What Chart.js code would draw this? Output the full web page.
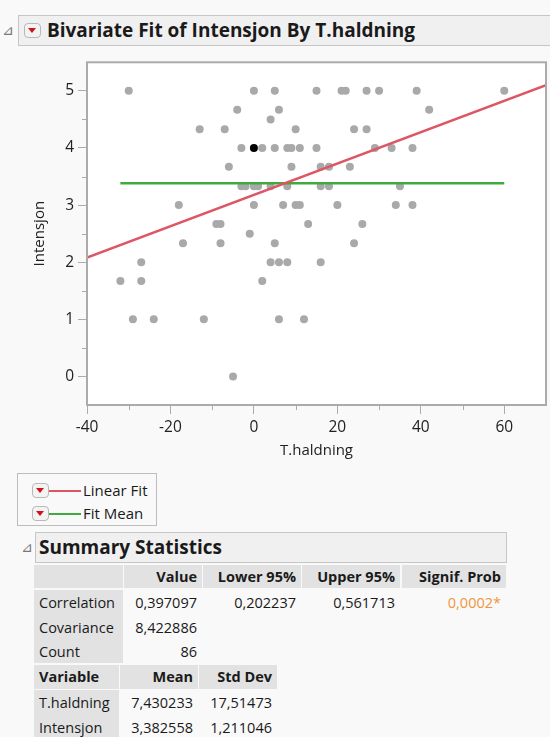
<!DOCTYPE html>
<html>
<head>
<meta charset="utf-8">
<script src="https://cdn.jsdelivr.net/npm/chart.js@4"></script>
<style>
  html, body { margin: 0; padding: 0; background: #f9f9f9; }
  body { width: 550px; height: 737px; position: relative; overflow: hidden;
         font-family: "Open Sans", "Noto Sans", sans-serif; color: #1a1a1a; }
  .abs { position: absolute; }
  .tri { position: absolute; font-family: "DejaVu Sans", sans-serif; font-size: 14px; color: #777; }
  .bar { position: absolute; background: #f0f0f0; border: 1px solid #c6c6c6; box-sizing: border-box; }
  .bar span { position: absolute; font-weight: 700; font-size: 19px; white-space: nowrap; }
  .btn { position: absolute; width: 17px; height: 15px; background: #f3f3f3; border: 1px solid #b8b8b8;
         border-radius: 4px; box-sizing: border-box; }
  .btn::after { content: ""; position: absolute; left: 3px; top: 4px; border-left: 4.5px solid transparent;
         border-right: 4.5px solid transparent; border-top: 5px solid #d0121b; }
  .cell { position: absolute; box-sizing: border-box; font-size: 14.5px; line-height: 24px;
          white-space: nowrap; padding: 0 5px; }
  .hd { background: #e2e2e2; font-weight: 700; text-align: right; }
  .lb { text-align: left; }
  .num { text-align: right; }
  #wrap { position: absolute; left: 0; top: 49px; width: 550px; height: 415px; }
</style>
</head>
<body>
<div class="tri" style="left:2px;top:22px;">⊿</div>
<div class="bar" style="left:18px;top:15px;width:540px;height:31px;">
  <div class="btn" style="left:5px;top:7px;"></div>
  <span style="left:28px;top:1px;">Bivariate Fit of Intensjon By T.haldning</span>
</div>

<div id="wrap"><canvas id="fit"></canvas></div>

<div class="abs" style="left:17px;top:473px;width:140px;height:53px;border:1px solid #bdbdbd;box-sizing:border-box;" id="legend"></div>

<div class="tri" style="left:21px;top:539px;">⊿</div>
<div class="bar" style="left:35px;top:532px;width:472px;height:31px;">
  <span style="left:3px;top:1px;">Summary Statistics</span>
</div>
<div id="stats"></div>

<script>
// T.haldning (x) and Intensjon (y)
const xVals = [-30, 0, 5, 15, 21, 22, 27, 30, 39, 60,
  -4, 6, 42,
  4,
  -13, -7, 10, 24, 27,
  -3, 2, 5, 8, 9, 11, 15, 29, 33, 38,
  -6, 9, 16, 18, 23,
  -3, -2, 0, 1, 4, 8, 16, 18, 35,
  -18, 0, 7, 10, 11, 20, 34, 38,
  -9, -8, 13, 26,
  -1,
  -17, -8, 5, 24,
  -27, 4, 6, 8, 16,
  -32, -27, 2,
  -29, -24, -12, 6, 12,
  -5];
const yVals = [5, 5, 5, 5, 5, 5, 5, 5, 5, 5,
  4.67, 4.67, 4.67,
  4.5,
  4.33, 4.33, 4.33, 4.33, 4.33,
  4, 4, 4, 4, 4, 4, 4, 4, 4, 4,
  3.67, 3.67, 3.67, 3.67, 3.67,
  3.33, 3.33, 3.33, 3.33, 3.33, 3.33, 3.33, 3.33, 3.33,
  3, 3, 3, 3, 3, 3, 3, 3,
  2.67, 2.67, 2.67, 2.67,
  2.5,
  2.33, 2.33, 2.33, 2.33,
  2, 2, 2, 2, 2,
  1.67, 1.67, 1.67,
  1, 1, 1, 1, 1,
  0];
// highlighted (selected) row
const selX = [0];
const selY = [4];

const xTicks = [-40, -20, 0, 20, 40, 60];
const xMinor = [-30, -10, 10, 30, 50];
const yTicks = [0, 1, 2, 3, 4, 5];
const yMinor = [0.5, 1.5, 2.5, 3.5, 4.5];

// summary statistics
const corrHead = ["", "Value", "Lower 95%", "Upper 95%", "Signif. Prob"];
const corrRow = ["Correlation", "0,397097", "0,202237", "0,561713", "0,0002*"];
const covRow = ["Covariance", "8,422886"];
const countRow = ["Count", "86"];
const varHead = ["Variable", "Mean", "Std Dev"];
const varNames = ["T.haldning", "Intensjon"];
const varMeans = [7.430233, 3.382558];
const varSds = [17.51473, 1.211046];
const covariance = 8.422886;

const RED = "#dc5663";
const GREEN = "#3eab3e";

// fits from the statistics
const slope = covariance / (varSds[0] * varSds[0]);
const intercept = varMeans[1] - slope * varMeans[0];
const xMin = -40, xMax = 70;
const linFit = [xMin, xMax].map(x => ({ x, y: intercept + slope * x }));
const meanFit = [Math.min(...xVals), Math.max(...xVals)].map(x => ({ x, y: varMeans[1] }));

const frame = {
  id: "frame",
  beforeDatasetsDraw(chart) {
    const { ctx, chartArea: a } = chart;
    ctx.save();
    ctx.fillStyle = "#fff";
    ctx.fillRect(a.left, a.top, a.right - a.left, a.bottom - a.top);
    ctx.restore();
  },
  afterDraw(chart) {
    const { ctx, chartArea: a, scales } = chart;
    ctx.save();
    ctx.strokeStyle = "#ababab";
    ctx.lineWidth = 2;
    ctx.strokeRect(a.left, a.top, a.right - a.left, a.bottom - a.top);
    ctx.lineWidth = 1;
    ctx.beginPath();
    xMinor.forEach(v => {
      const px = Math.round(scales.x.getPixelForValue(v)) + 0.5;
      ctx.moveTo(px, a.bottom); ctx.lineTo(px, a.bottom + 5);
    });
    yMinor.forEach(v => {
      const py = Math.round(scales.y.getPixelForValue(v)) + 0.5;
      ctx.moveTo(a.left, py); ctx.lineTo(a.left - 5, py);
    });
    ctx.stroke();
    ctx.restore();
  }
};

const tickFont = { family: "Open Sans", size: 15.5 };
const titleFont = { family: "Open Sans", size: 15 };

new Chart(document.getElementById("fit"), {
  type: "scatter",
  data: {
    datasets: [
      { type: "line", data: linFit, borderColor: RED, borderWidth: 2.5, pointRadius: 0, order: 0 },
      { type: "line", data: meanFit, borderColor: GREEN, borderWidth: 2.5, pointRadius: 0, order: 0 },
      { data: selX.map((x, i) => ({ x, y: selY[i] })), backgroundColor: "#000", pointRadius: 4, borderWidth: 0, order: 1 },
      { data: xVals.map((x, i) => ({ x, y: yVals[i] })), backgroundColor: "#a9a9a9", pointRadius: 4, borderWidth: 0, order: 2 },
    ],
  },
  options: {
    responsive: true,
    maintainAspectRatio: false,
    animation: false,
    layout: { padding: { left: 30, top: 8, right: 2, bottom: 0 } },
    plugins: { legend: { display: false }, tooltip: { enabled: false } },
    scales: {
      x: {
        type: "linear", min: xMin, max: xMax,
        afterBuildTicks: s => { s.ticks = xTicks.map(value => ({ value })); },
        afterFit: s => { s.height = 59; },
        ticks: { color: "#222", font: tickFont, padding: 4, maxRotation: 0 },
        grid: { drawOnChartArea: false, tickLength: 9, color: "#ababab" },
        border: { display: false },
        title: { display: true, text: "T.haldning", color: "#222", font: titleFont, padding: { top: 0, bottom: 4 } },
      },
      y: {
        type: "linear", min: -0.5, max: 5.5,
        afterBuildTicks: s => { s.ticks = yTicks.map(value => ({ value })); },
        afterFit: s => { s.width = 57; },
        ticks: { color: "#222", font: tickFont, padding: 4 },
        grid: { drawOnChartArea: false, tickLength: 9, color: "#ababab" },
        border: { display: false },
        title: { display: true, text: "Intensjon", color: "#222", font: titleFont, padding: { top: 1, bottom: 0 } },
      },
    },
  },
  plugins: [frame],
});

// legend
const legend = document.getElementById("legend");
[["Linear Fit", RED, 9], ["Fit Mean", GREEN, 32]].forEach(([txt, col, top]) => {
  legend.insertAdjacentHTML("beforeend",
    `<div class="btn" style="left:14px;top:${top}px;"></div>` +
    `<div class="abs" style="left:31px;top:${top + 7}px;width:32px;height:2px;background:${col};"></div>` +
    `<div class="abs" style="left:65px;top:${top - 4}px;font-size:15px;line-height:22px;white-space:nowrap;">${txt}</div>`);
});

// statistics tables
const stats = document.getElementById("stats");
function cell(l, r, t, h, txt, cls, extra) {
  stats.insertAdjacentHTML("beforeend",
    `<div class="cell ${cls}" style="left:${l}px;top:${t}px;width:${r - l}px;height:${h}px;${extra || ""}">${txt}</div>`);
}
const c1 = [[34, 123], [124, 202], [203, 301], [302, 400], [402, 506]];
corrHead.forEach((t, i) => cell(c1[i][0], c1[i][1], 565, 23, t, "hd"));
cell(c1[0][0], c1[0][1], 590, 73, "", "hd");
[corrRow, covRow, countRow].forEach((row, r) => {
  row.forEach((t, i) => cell(c1[i][0], c1[i][1], 591 + r * 24.5, 24, t, i ? "num" : "lb",
    i === 4 ? "color:#f0963c;" : ""));
});
const c2 = [[34, 119], [120, 198], [199, 277]];
varHead.forEach((t, i) => cell(c2[i][0], c2[i][1], 665, 24, t, "hd", i ? "" : "text-align:left;"));
cell(c2[0][0], c2[0][1], 690, 60, "", "hd");
varNames.forEach((n, r) => {
  const top = 691 + r * 25;
  cell(c2[0][0], c2[0][1], top, 24, n, "lb");
  cell(c2[1][0], c2[1][1], top, 24, varMeans[r].toFixed(6).replace(".", ","), "num");
  cell(c2[2][0], c2[2][1], top, 24, varSds[r].toPrecision(7).replace(".", ","), "num");
});
</script>
</body>
</html>
